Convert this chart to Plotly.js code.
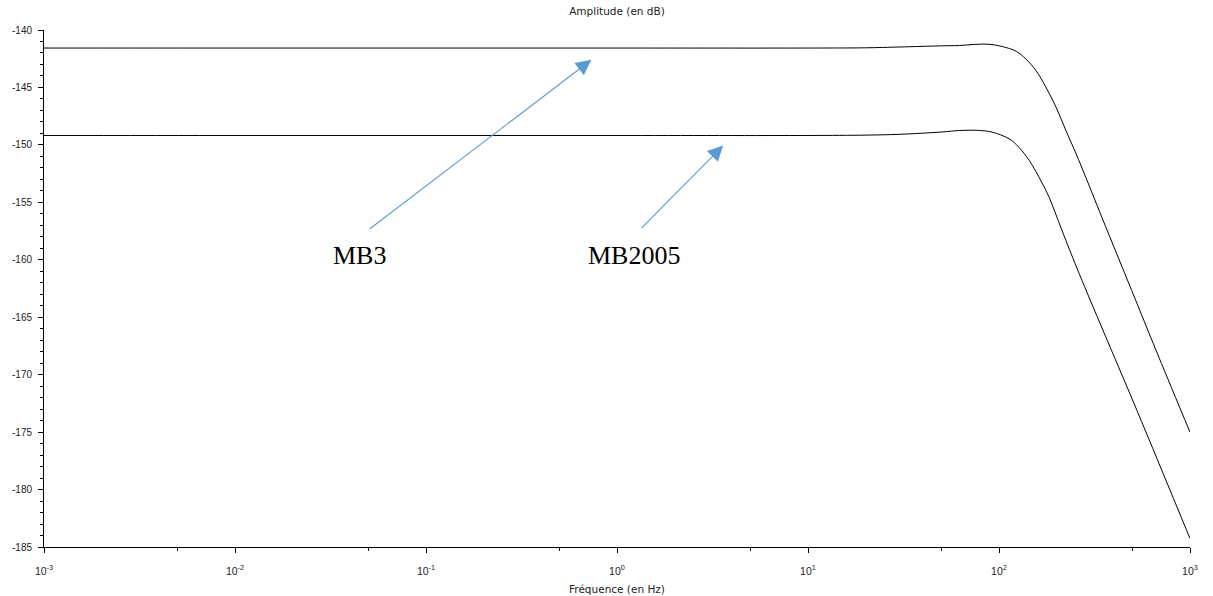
<!DOCTYPE html>
<html>
<head>
<meta charset="utf-8">
<script src="https://cdn.plot.ly/plotly-3.0.1.min.js"></script>
<style>html,body{margin:0;padding:0;background:#fff;}#chart{width:1213px;height:596px;}</style>
</head>
<body>
<div id="chart"></div>
<script>
// Frequencies (Hz) and amplitudes (dB)
const freqMB3 = [0.001, 0.01, 0.1, 1, 10, 20, 30, 50, 62, 75, 89, 104, 123, 138, 156, 176, 199, 224, 253, 285, 346, 520, 687, 1000];
const ampMB3  = [-141.57, -141.57, -141.57, -141.57, -141.57, -141.55, -141.48, -141.38, -141.35, -141.25, -141.24, -141.44, -141.85, -142.51, -143.52, -144.98, -146.72, -148.75, -150.75, -152.84, -156.32, -163.54, -168.48, -175.0];

const freqMB2005 = [0.001, 0.01, 0.1, 1, 10, 20, 30, 50, 62, 78, 92, 113, 127, 144, 162, 183, 201, 224, 272, 527, 1000];
const ampMB2005  = [-149.18, -149.18, -149.18, -149.18, -149.18, -149.15, -149.08, -148.88, -148.75, -148.74, -148.89, -149.47, -150.2, -151.36, -152.81, -154.55, -156.29, -158.32, -161.8, -173.1, -184.26];

const xTickVals = [0.001, 0.01, 0.1, 1, 10, 100, 1000];
const xTickExp = ['-3', '-2', '-1', '0', '1', '2', '3'];
const xMinorVals = [0.005, 0.05, 0.5, 5, 50, 500];
const yTickVals = [-185, -180, -175, -170, -165, -160, -155, -150, -145, -140];
const yTickText = ['-185', '-180', '-175', '-170', '-165', '-160', '-155', '-150', '-145', '-140'];

const seriesNames = ['MB3', 'MB2005'];
const titleText = 'Amplitude (en dB)';
const xTitleText = 'Fréquence (en Hz)';

const xTickText = xTickExp.map(e => '10<sup>' + e + '</sup>');

const traces = [
  {x: freqMB3, y: ampMB3, name: seriesNames[0], mode: 'lines', line: {color: '#000', width: 1, shape: 'spline', smoothing: 1}},
  {x: freqMB2005, y: ampMB2005, name: seriesNames[1], mode: 'lines', line: {color: '#000', width: 1, shape: 'spline', smoothing: 1}}
];

const tickFont = {family: 'Liberation Sans, Arial, sans-serif', size: 10.5, color: '#222'};
const titleFont = {family: 'DejaVu Sans, sans-serif', size: 10.5, color: '#222'};
const arrowColor = '#5b9bd5';

const layout = {
  width: 1213, height: 596,
  margin: {l: 44, r: 23, t: 30, b: 49},
  paper_bgcolor: '#fff', plot_bgcolor: '#fff',
  showlegend: false,
  title: {text: titleText, x: 0.5, xref: 'paper', y: 1 - 11/596, yref: 'container', yanchor: 'middle', font: titleFont},
  xaxis: {
    type: 'log', range: [-3, 3],
    tickmode: 'array', tickvals: xTickVals, ticktext: xTickText,
    ticks: 'outside', ticklen: 5, tickwidth: 1, tickcolor: '#000',
    ticklabelstandoff: 9,
    showline: true, linecolor: '#000', linewidth: 1,
    showgrid: false, zeroline: false,
    tickfont: tickFont,
    minor: {tickmode: 'array', tickvals: xMinorVals, ticks: 'outside', ticklen: 3, tickcolor: '#000', showgrid: false},
    title: {text: xTitleText, standoff: 10, font: titleFont}
  },
  yaxis: {
    range: [-185, -140],
    tickmode: 'array', tickvals: yTickVals, ticktext: yTickText,
    ticks: 'outside', ticklen: 5, tickwidth: 1, tickcolor: '#000',
    ticklabelstandoff: 4,
    showline: true, linecolor: '#000', linewidth: 1,
    showgrid: false, zeroline: false,
    tickfont: {family: 'Liberation Sans, Arial, sans-serif', size: 10, color: '#222'},
    minor: {dtick: 1, ticks: 'outside', ticklen: 3, tickcolor: '#000', showgrid: false}
  },
  annotations: [
    {x: -0.134, y: -142.6, xref: 'x', yref: 'y', ax: -223, ay: 170, text: '', showarrow: true,
     arrowhead: 2, arrowsize: 2.8, arrowwidth: 1.1, arrowcolor: arrowColor},
    {x: 0.556, y: -150.05, xref: 'x', yref: 'y', ax: -83, ay: 84, text: '', showarrow: true,
     arrowhead: 2, arrowsize: 2.8, arrowwidth: 1.1, arrowcolor: arrowColor},
    {x: -1.347, y: -159.63, xref: 'x', yref: 'y', text: seriesNames[0], showarrow: false,
     xanchor: 'center', yanchor: 'middle', font: {family: 'Liberation Serif, Times New Roman, serif', size: 26, color: '#000'}},
    {x: 0.091, y: -159.63, xref: 'x', yref: 'y', text: seriesNames[1], showarrow: false,
     xanchor: 'center', yanchor: 'middle', font: {family: 'Liberation Serif, Times New Roman, serif', size: 26, color: '#000'}}
  ]
};

Plotly.newPlot('chart', traces, layout, {staticPlot: true, displayModeBar: false});
</script>
</body>
</html>
